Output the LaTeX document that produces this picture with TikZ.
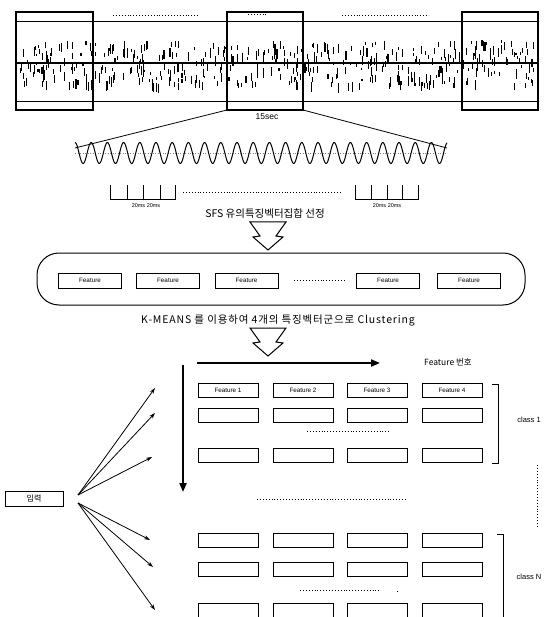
\documentclass[tikz,border=0pt]{standalone}
\usepackage{fontspec}
\setmainfont{Liberation Sans}
\newfontfamily\kr{Noto Sans CJK KR}
\newfontfamily\krwide[LetterSpace=8]{Noto Sans CJK KR}
\usetikzlibrary{arrows.meta}
\begin{document}
\begin{tikzpicture}[x=1pt,y=-1pt,
  fbox/.style={draw, line width=0.9pt, minimum width=60pt, minimum height=14pt, inner sep=0pt, font=\fontsize{6.3}{7}\selectfont},
  cbox/.style={draw, line width=0.9pt, minimum width=63pt, minimum height=15pt, inner sep=0pt, font=\fontsize{6.3}{7}\selectfont},
  hbox/.style={draw, line width=1.5pt},
  lbl/.style={font=\kr\fontsize{10.5}{11}\selectfont, inner sep=0pt},
  inarrow/.style={-{Stealth[length=6pt,width=4pt]}, line width=0.8pt},
  bigarrow/.style={-{Triangle[length=9pt,width=7pt]}, line width=2pt},
  dotline/.style={dotted, line width=0.9pt},
  zz/.style={draw, line width=1pt, line join=miter, fill=white},
  pics/zzarrow/.style={code={
    \path[zz] (-18,0) -- (18,0) -- (8,14) -- (15,15) -- (0,28) -- (-15,15) -- (-8,14) -- cycle;}}
]
\useasboundingbox[fill=white] (0,0) rectangle (557,617);

% ---------- top waveform strip ----------
\draw[line width=1pt] (16,22) rectangle (538,102);
\pgfmathsetseed{12}
\foreach \i in {1,...,460}{
  \pgfmathsetmacro\xx{18+517*rnd}
  \pgfmathsetmacro\yy{40+44*rnd}
  \pgfmathsetmacro\ll{2+8*rnd}
  \draw[line width=1.1pt] (\xx,\yy) -- ++(0,\ll);
}
\draw[line width=1.8pt] (16,63) -- (538,63);
\draw[hbox] (16,12) rectangle (93,110);
\draw[hbox] (227,12) rectangle (303,110);
\draw[hbox] (462,12) rectangle (538,110);
\draw[dotline] (113,15) -- (199,15);
\draw[dotline] (342,15) -- (429,15);
\draw[dotline] (248,14) -- (268,14);
\node[font=\fontsize{8.5}{9}\selectfont, inner sep=0pt] (sec) at (267,117) {15sec};

% zoom lines
\coordinate (bl) at (227,110);
\coordinate (br) at (303,110);
\coordinate (wl) at (75,148);
\coordinate (wr) at (447,148);
\draw[line width=0.8pt] (bl) -- (wl);
\draw[line width=0.8pt] (br) -- (wr);

% wave
\draw[dotted, gray, line width=0.5pt] (75,153) -- (447,153);
\draw[line width=1pt] plot[domain=75:447, samples=500, smooth] (\x, {153 - 10.5*cos(22.222*(\x-75))});

% frames
\draw[line width=1pt] (110,185) -- (110,200) -- (175,200) -- (175,185);
\foreach \t in {127,143,160}{\draw[line width=1pt] (\t,185) -- (\t,200);}
\node[font=\fontsize{5.5}{6}\selectfont, inner sep=0pt] (f1) at (146,206) {20ms 20ms};
\draw[line width=1pt] (355,185) -- (355,200) -- (418,200) -- (418,185);
\foreach \t in {371,387,402}{\draw[line width=1pt] (\t,185) -- (\t,200);}
\node[font=\fontsize{5.5}{6}\selectfont, inner sep=0pt] (f2) at (387,206) {20ms 20ms};
\draw[dotline] (183,192) -- (340,192);

\node[lbl] (sfs) at (265,214) {SFS 유의특징벡터집합 선정};
\pic at (268,222) {zzarrow};

% ---------- container ----------
\node[draw, rounded corners=22pt, minimum width=488pt, minimum height=52pt, line width=1pt] (cont) at (281,279) {};
\node[cbox] (c1) at (90,280.5) {Feature};
\node[cbox] (c2) at (168,280.5) {Feature};
\node[cbox] (c3) at (246.5,280.5) {Feature};
\node[cbox] (c4) at (388,280.5) {Feature};
\node[cbox] (c5) at (469,280.5) {Feature};
\draw[dotline] ([xshift=16pt]c3.east) -- ([xshift=-12pt]c4.west);

\node[inner sep=0pt, font=\krwide\fontsize{10.5}{11}\selectfont] (km) at (278,320) {K-MEANS 를 이용하여 4개의 특징벡터군으로 Clustering};
\pic at (268,328) {zzarrow};

% ---------- feature table ----------
\coordinate (ha) at (197,363);
\coordinate (hb) at (380,363);
\draw[bigarrow] (ha) -- (hb);
\node[font=\kr\fontsize{8.5}{9}\selectfont, inner sep=0pt] (fn) at (448,362) {Feature 번호};
\coordinate (va) at (183,365);
\coordinate (vb) at (183,492);
\draw[bigarrow] (va) -- (vb);

% class 1 rows
\foreach \c/\cx in {1/228,2/303,3/377,4/452}{
  \node[fbox] (r1c\c) at (\cx,390) {Feature \c};
  \node[fbox] (r2c\c) at (\cx,415) {};
  \node[fbox] (r3c\c) at (\cx,455) {};
}
\draw[dotline] (307,431) -- (390,431);
\draw[line width=1pt] (492,384) -- (498,384) -- (498,463) -- (492,463);
\node[font=\fontsize{7.5}{8}\selectfont, inner sep=0pt] (cl1) at (529,420) {class 1};

% middle
\draw[dotline] (257,499) -- (405,499);
\draw[dotline] (537,465) -- (537,527);

% class N rows
\foreach \c/\cx in {1/228,2/303,3/377,4/452}{
  \node[fbox] (n1c\c) at (\cx,540) {};
  \node[fbox] (n2c\c) at (\cx,569) {};
  \node[fbox] (n3c\c) at (\cx,610) {};
}
\draw[dotline] (300,590) -- (380,590);
\draw[dotline] (397,591) -- (399,591);
\draw[line width=1pt] (497,534) -- (503,534) -- (503,617);
\node[font=\fontsize{7.5}{8}\selectfont, inner sep=0pt] (clN) at (529,577) {class N};

% ---------- input ----------
\node[draw, line width=1pt, minimum width=58pt, minimum height=15pt, inner sep=0pt, font=\kr\fontsize{8}{9}\selectfont] (in) at (34,499) {입력};
\coordinate (s1) at (78,495);
\coordinate (s2) at (78,503);
\coordinate (t1) at (155,388);
\coordinate (t2) at (155,413);
\coordinate (t3) at (152,457);
\coordinate (t4) at (150,540);
\coordinate (t5) at (153,567);
\coordinate (t6) at (155,610);
\foreach \t in {t1,t2,t3}{\draw[inarrow] (s1) -- (\t);}
\foreach \t in {t4,t5,t6}{\draw[inarrow] (s2) -- (\t);}
\end{tikzpicture}
\end{document}
